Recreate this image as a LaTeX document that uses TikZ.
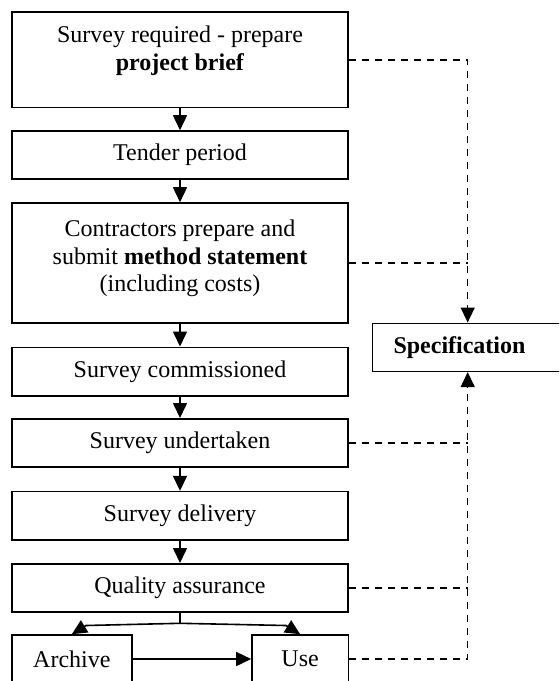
\documentclass[tikz,border=0pt]{standalone}
\usepackage{fontspec}
\setmainfont{Liberation Serif}
\usetikzlibrary{arrows.meta}

\begin{document}
\begin{tikzpicture}[x=0.5pt,y=-0.5pt,
  stage/.style={draw, line width=0.8pt, inner sep=0pt, minimum width=168.25pt, minimum height=24.2pt, align=center, font=\fontsize{12}{13.8}\selectfont},
  flow/.style={line width=0.8pt, -{Triangle[length=7.5pt,width=7pt]}},
  link/.style={line width=0.75pt, dash pattern=on 3.5pt off 3pt},
  linkto/.style={link, -{Triangle[length=7.5pt,width=7pt]}}]
\clip (0,0) rectangle (559,681);
\node[stage, minimum height=47.75pt] (v1) at (180,59.75) {};
\node[align=center, inner sep=0pt, font=\fontsize{12}{14.1}\selectfont] (t1) at (180,51) {Survey required - prepare\\\textbf{project brief}};
\node[stage, minimum height=24pt] (v2) at (180,155) {Tender period};
\node[stage, minimum height=60pt] (v3) at (180,263) {};
\node[align=center, inner sep=0pt, font=\fontsize{12}{13.8}\selectfont] (t3) at (180,258.5) {Contractors prepare and\\submit \textbf{method statement}\\(including costs)};
\node[stage] (v4) at (180,371.5) {Survey commissioned};
\node[stage] (v5) at (180,443) {Survey undertaken};
\node[stage] (v6) at (180,515.8) {Survey delivery};
\node[stage] (v7) at (180,588) {Quality assurance};
\node[stage, minimum width=60pt, minimum height=24pt] (o1) at (71.85,659) {Archive};
\node[stage, minimum width=48.15pt, minimum height=24pt] (o2) at (300.15,659) {Use};
\node[stage, anchor=west, minimum width=0pt, inner xsep=10.5pt, text width=83pt, align=left, minimum height=24pt] (s1) at (371.7,347.3) {\textbf{Specification}};
\coordinate (bus) at (467.7,347.3);
\coordinate (m) at (180,623.3);
\coordinate (k1) at (86,625.5);
\coordinate (k2) at (286,625.5);
\foreach \i/\j in {1/2,2/3,3/4,4/5,5/6,6/7}
  \draw[flow] (v\i.south) -- (v\j.north);
\draw[line width=0.8pt] (v7.south) -- (m);
\draw[flow] (m) -- (k1) -- (o1.north);
\draw[flow] (m) -- (k2) -- (o2.north);
\draw[flow] (o1.east) -- (o2.west);
\draw[linkto] (v1.east) -| (s1.north -| bus);
\draw[link] (v3.east) -- (v3.east -| bus);
\draw[link] (v5.east) -- (v5.east -| bus);
\draw[link] (v7.east) -- (v7.east -| bus);
\draw[linkto] (o2.east) -| (s1.south -| bus);
\end{tikzpicture}
\end{document}
